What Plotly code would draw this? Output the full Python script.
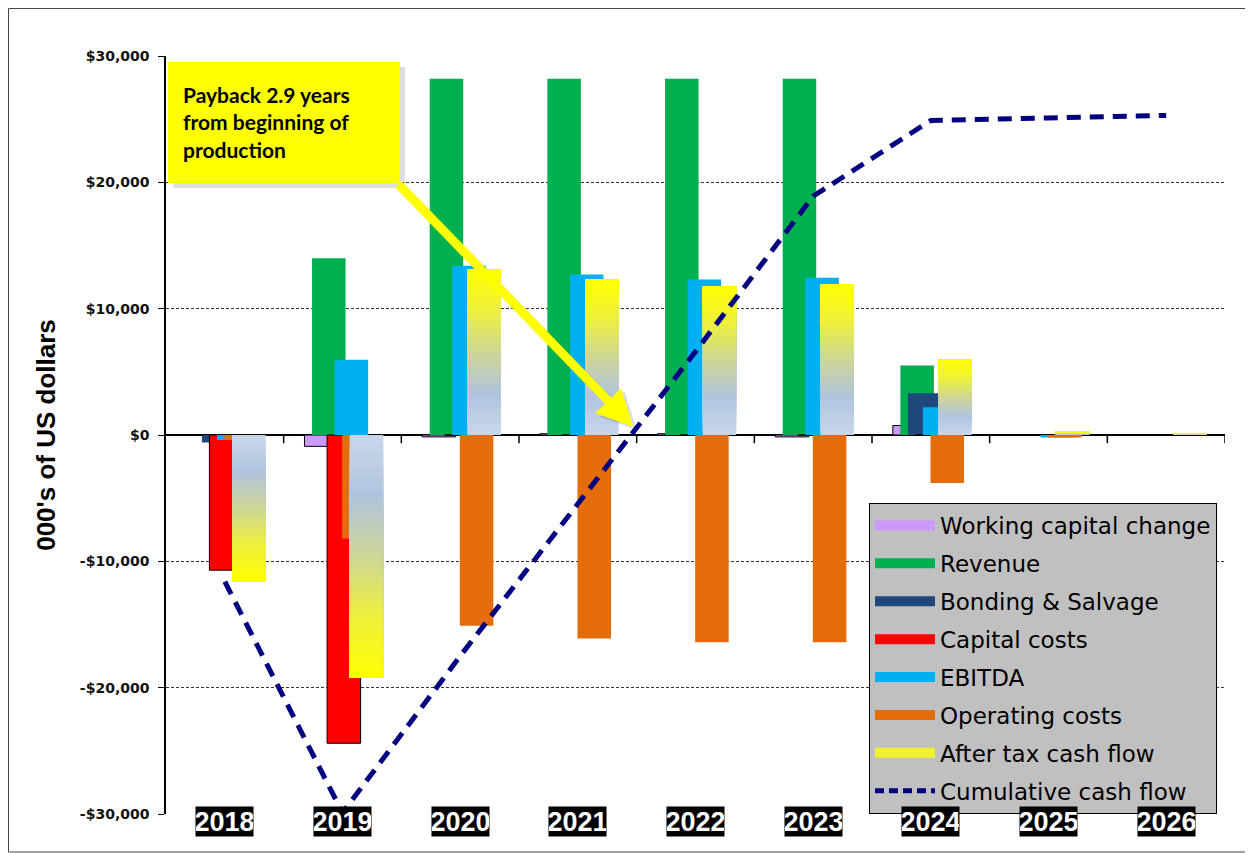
import plotly.graph_objects as go

# ---------------- data (000's of US dollars) ----------------
years = ["2018", "2019", "2020", "2021", "2022", "2023", "2024", "2025", "2026"]
working_capital = [0, -900, -150, 100, 100, -150, 750, 0, 0]
revenue = [0, 14000, 28200, 28200, 28200, 28200, 5500, 0, 0]
bonding_salvage = [-600, 0, 0, 0, 0, 0, 3300, 0, 0]
capital_costs = [-10700, -24400, 0, 0, 0, 0, 0, 0, 0]
ebitda = [-400, 5950, 13400, 12700, 12300, 12450, 2200, -200, 0]
operating_costs = [-400, -8200, -15100, -16100, -16400, -16400, -3800, -200, 0]
after_tax_cf = [-11600, -19200, 13100, 12300, 11800, 11950, 5950, 270, 150]
cumulative_cf = [-11600, -29900, -17500, -5500, 6600, 18900, 24900, 25100, 25300]

ytick_vals = [-30000, -20000, -10000, 0, 10000, 20000, 30000]
ytick_text = ["-$30,000", "-$20,000", "-$10,000", "$0", "$10,000", "$20,000", "$30,000"]

callout_text = "Payback 2.9 years<br>from beginning of<br>production"

# ---------------- layout geometry (screen px; page body has an 8px margin) ----------------
OFF = 8
FW, FH = 1253 - OFF, 853 - OFF
PL, PR, PT, PB = 166, 1225, 56, 814          # plot area on screen
ML, MT = PL - OFF, PT - OFF
MR, MB = FW - (PR - OFF), FH - (PB - OFF)
PW, PH = PR - PL, PB - PT

def px_x(p):
    return (p - PL) / PW

def px_y(p):
    return (PB - p) / PH

idx = list(range(len(years)))
BW = 0.285
series = [
    ("Working capital change", working_capital, "#CC99FF", -0.323, True),
    ("Revenue", revenue, "#00B050", -0.259, False),
    ("Bonding & Salvage", bonding_salvage, "#1F497D", -0.195, False),
    ("Capital costs", capital_costs, "#FF0000", -0.131, True),
    ("EBITDA", ebitda, "#00B0F0", -0.067, False),
    ("Operating costs", operating_costs, "#E46C0A", -0.003, False),
]
ATCF_OFF = 0.061

stops = [(0.0, (200, 215, 235)), (0.25, (176, 196, 222)), (0.5, (206, 214, 150)),
         (0.75, (238, 240, 60)), (1.0, (255, 255, 0))]

def grad(t):
    for (t0, c0), (t1, c1) in zip(stops[:-1], stops[1:]):
        if t <= t1:
            f = (t - t0) / (t1 - t0)
            return "rgb(%d,%d,%d)" % tuple(round(a + (b - a) * f) for a, b in zip(c0, c1))
    return "rgb(255,255,0)"

fig = go.Figure()

for name, vals, col, off, border in series:
    fig.add_trace(go.Bar(
        x=idx, y=vals, offset=off, width=BW, name=name, showlegend=False,
        marker=dict(color=col, line=dict(color="black" if border else col,
                                         width=1 if border else 0)),
        hoverinfo="y"))

# after-tax cash flow: gradient built from stacked-over bars (each covers the rest of the bar)
N = 30
for i in range(N):
    c = grad((i + 0.5) / N)
    fig.add_trace(go.Bar(
        x=idx, y=[v * (N - i) / N for v in after_tax_cf], base=[v * i / N for v in after_tax_cf],
        offset=ATCF_OFF, width=BW, showlegend=False,
        marker=dict(color=c, line=dict(width=0)), hoverinfo="skip"))

fig.add_trace(go.Scatter(
    x=idx, y=cumulative_cf, mode="lines", name="Cumulative cash flow", showlegend=False,
    line=dict(color="#000080", width=5, dash="14px,9px")))

# legend proxies
legend_items = [(s[0], s[2]) for s in series] + [("After tax cash flow", "#F0F030")]
for k, (name, col) in enumerate(legend_items):
    fig.add_trace(go.Scatter(x=[None], y=[None], mode="lines", name=name,
                             legendgroup="g%d" % k, line=dict(color=col, width=11)))
fig.add_trace(go.Scatter(x=[None], y=[None], mode="lines", name="Cumulative cash flow",
                         legendgroup="g99", line=dict(color="#000080", width=5, dash="9px,5px")))

shapes = []
# outer frame
shapes.append(dict(type="rect", xref="paper", yref="paper", x0=px_x(8.5), x1=px_x(1246),
                   y0=px_y(852), y1=px_y(8.5), line=dict(color="#444", width=1), layer="below"))
# category tick marks on the zero line
for i in range(1, len(years) + 1):
    shapes.append(dict(type="line", xref="x", yref="y", x0=i - 0.5, x1=i - 0.5,
                       y0=0, y1=-650, line=dict(color="black", width=1.5)))
# callout shadow + box
shapes.append(dict(type="rect", xref="paper", yref="paper", x0=px_x(173), x1=px_x(405),
                   y0=px_y(188), y1=px_y(67), fillcolor="rgba(0,0,0,0.13)", line=dict(width=0),
                   layer="above"))
shapes.append(dict(type="rect", xref="paper", yref="paper", x0=px_x(168), x1=px_x(400),
                   y0=px_y(183), y1=px_y(62), fillcolor="#FFFF00", line=dict(width=0),
                   layer="above"))

annotations = []
for i, yr in enumerate(years):
    annotations.append(dict(x=i, y=px_y(837), xref="x", yref="paper", text="<b>%s</b>" % yr,
                            showarrow=False, bgcolor="black", width=57, height=29,
                            borderpad=0,
                            font=dict(family="Liberation Sans Narrow, Liberation Sans", size=27,
                                      color="white")))
annotations.append(dict(x=px_x(181), y=px_y(122), xref="paper", yref="paper",
                        xanchor="left", yanchor="middle", align="left", showarrow=False,
                        text="<b>%s</b>" % callout_text,
                        font=dict(family="Lato, Open Sans", size=21, color="black",
                                  weight="bold")))
# arrow shadow and arrow
annotations.append(dict(x=3.47 + 0.03, y=420, ax=1.463 + 0.03, ay=19700, xref="x", yref="y",
                        axref="x", ayref="y", text="", showarrow=True, arrowhead=2,
                        arrowsize=0.8, arrowwidth=9, arrowcolor="rgba(0,0,0,0.13)", standoff=0))
annotations.append(dict(x=3.47, y=660, ax=1.463, ay=19980, xref="x", yref="y",
                        axref="x", ayref="y", text="", showarrow=True, arrowhead=2,
                        arrowsize=0.8, arrowwidth=9, arrowcolor="#FFFF00", standoff=0))

fig.update_layout(
    width=FW, height=FH, margin=dict(l=ML, r=MR, t=MT, b=MB),
    paper_bgcolor="white", plot_bgcolor="white", barmode="overlay",
    shapes=shapes, annotations=annotations,
    legend=dict(x=px_x(869), y=px_y(503), xanchor="left", yanchor="top",
                bgcolor="#C0C0C0", bordercolor="black", borderwidth=1,
                traceorder="grouped", tracegroupgap=5, itemwidth=60,
                font=dict(family="DejaVu Sans", size=23, color="black")),
    xaxis=dict(range=[-0.5, len(years) - 0.5], showticklabels=False, showgrid=False,
               zeroline=False, showline=False, ticks=""),
    yaxis=dict(range=[-30000, 30000], tickvals=ytick_vals, ticktext=ytick_text,
               showgrid=True, gridcolor="#333", griddash="3px,2px", gridwidth=1,
               zeroline=True, zerolinecolor="black", zerolinewidth=1.5,
               showline=True, linecolor="black", linewidth=1.5, ticks="outside",
               ticklen=6, tickcolor="black", ticklabelstandoff=6,
               tickfont=dict(family="DejaVu Sans", size=14, color="#111", weight="bold"),
               title=dict(text="<b>000's of US dollars</b>", standoff=17,
                          font=dict(family="Liberation Sans", size=26, color="black"))),
)

fig.write_html("out.html")
